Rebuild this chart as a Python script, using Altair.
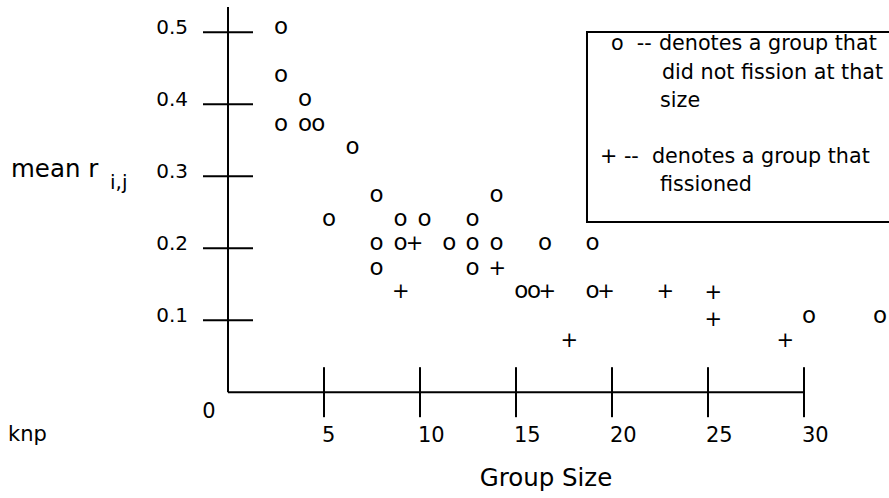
import altair as alt
import pandas as pd

# ---- data ----
nofission_size = [2.76, 2.76, 4.01, 2.76, 4.01, 4.70, 6.49, 7.74, 5.26, 8.98, 10.23,
                  7.74, 8.98, 7.74, 11.53, 12.74, 12.74, 13.99, 13.99, 12.74, 15.28,
                  15.94, 16.51, 18.99, 18.99, 30.26, 33.96]
nofission_r = [0.507, 0.440, 0.407, 0.373, 0.373, 0.373, 0.340, 0.274, 0.240, 0.240, 0.240,
               0.207, 0.207, 0.173, 0.207, 0.240, 0.207, 0.207, 0.274, 0.173, 0.140,
               0.140, 0.207, 0.207, 0.140, 0.106, 0.106]
fission_size = [9.71, 9.00, 14.03, 16.63, 19.69, 22.78, 17.78, 25.28, 25.28, 29.03]
fission_r = [0.207, 0.140, 0.173, 0.140, 0.140, 0.140, 0.073, 0.139, 0.101, 0.072]

x_ticks = [5, 10, 15, 20, 25, 30]
x_tick_labels = ["5", "10", "15", "20", "25", "30"]
y_ticks = [0.1, 0.2, 0.3, 0.4, 0.5]
y_tick_labels = ["0.1", "0.2", "0.3", "0.4", "0.5"]
legend_prefix = ["o\u00a0\u00a0--", "", "", "+ --", ""]
legend_text = ["denotes a group that", "did not fission at that", "size",
               "denotes a group that", "fissioned"]

FONT = "DejaVu Sans"
X_MAX = 34
Y_MAX = 0.535
W = 652.8
H = 385.2

xs = alt.Scale(domain=[0, X_MAX], nice=False, zero=False)
ys = alt.Scale(domain=[0, Y_MAX], nice=False, zero=False)

pts_o = pd.DataFrame({"size": nofission_size, "r": nofission_r, "sym": ["o"] * len(nofission_size)})
pts_p = pd.DataFrame({"size": fission_size, "r": fission_r, "sym": ["+"] * len(fission_size)})
xt = pd.DataFrame({"v": x_ticks, "lab": x_tick_labels})
yt = pd.DataFrame({"v": y_ticks, "lab": y_tick_labels})
one = pd.DataFrame({"d": [0]})

def X(f):
    return alt.X(f, type="quantitative", scale=xs, axis=None)

def Y(f):
    return alt.Y(f, type="quantitative", scale=ys, axis=None)

XD0 = alt.XDatum(0, scale=xs, axis=None)
YD0 = alt.YDatum(0, scale=ys, axis=None)

o_layer = alt.Chart(pts_o).mark_text(font=FONT, fontSize=23, align="center", baseline="middle",
                                     color="black").encode(x=X("size"), y=Y("r"), text="sym:N")
p_layer = alt.Chart(pts_p).mark_text(font=FONT, fontSize=21, align="center", baseline="middle",
                                     color="black", dy=1).encode(x=X("size"), y=Y("r"), text="sym:N")

y_axis = alt.Chart(one).mark_rule(color="black", strokeWidth=2).encode(
    x=XD0, y=YD0, y2=alt.Y2Datum(Y_MAX))
x_axis = alt.Chart(one).mark_rule(color="black", strokeWidth=2).encode(
    y=YD0, x=XD0, x2=alt.X2Datum(30))

y_tick_marks = alt.Chart(yt).mark_tick(orient="horizontal", size=50, thickness=2,
                                       color="black", opacity=1).encode(x=XD0, y=Y("v"))
x_tick_marks = alt.Chart(xt).mark_tick(orient="vertical", size=50, thickness=2,
                                       color="black", opacity=1).encode(y=YD0, x=X("v"))

y_labels = alt.Chart(yt).mark_text(font=FONT, fontSize=20, align="right", baseline="alphabetic",
                                   dx=-40, dy=2, color="black").encode(x=XD0, y=Y("v"), text="lab:N")
x_labels = alt.Chart(xt).mark_text(font=FONT, fontSize=21, align="left", baseline="alphabetic",
                                   dx=-2, dy=50, color="black").encode(x=X("v"), y=YD0, text="lab:N")
origin_label = alt.Chart(one).mark_text(font=FONT, fontSize=21, align="center", baseline="alphabetic",
                                        dx=-19, dy=26, color="black", text="0").encode(x=XD0, y=YD0)

# annotations (pixel positions relative to the plot origin at 228, 7)
knp = alt.Chart(one).mark_text(font=FONT, fontSize=21, align="left", baseline="alphabetic",
                               color="black", text="knp").encode(x=alt.value(-220), y=alt.value(434))
x_title = alt.Chart(one).mark_text(font=FONT, fontSize=24.5, align="center", baseline="alphabetic",
                                   color="black", text="Group Size").encode(x=alt.value(318), y=alt.value(479.5))
y_title = alt.Chart(one).mark_text(font=FONT, fontSize=24.5, align="left", baseline="alphabetic",
                                   color="black", text="mean r").encode(x=alt.value(-217), y=alt.value(169.7))
y_title_sub = alt.Chart(one).mark_text(font=FONT, fontSize=20, align="left", baseline="alphabetic",
                                       color="black", text="i,j").encode(x=alt.value(-118), y=alt.value(182))

legend_box = alt.Chart(one).mark_rect(filled=False, stroke="black", strokeWidth=2).encode(
    x=alt.value(359), x2=alt.value(720), y=alt.value(25), y2=alt.value(215))

prefix_x = [611, 0, 0, 600, 0]
text_x = [659, 662, 660, 652, 660]
legend_base = [50, 79, 107, 163, 191]
legend_layers = []
for pre, txt, px, tx, ly in zip(legend_prefix, legend_text, prefix_x, text_x, legend_base):
    if pre:
        legend_layers.append(
            alt.Chart(one).mark_text(font=FONT, fontSize=20.7, align="left", baseline="alphabetic",
                                     color="black", text=pre).encode(x=alt.value(px - 228), y=alt.value(ly - 7))
        )
    legend_layers.append(
        alt.Chart(one).mark_text(font=FONT, fontSize=20.7, align="left", baseline="alphabetic",
                                 color="black", text=txt).encode(x=alt.value(tx - 228), y=alt.value(ly - 7))
    )

chart = alt.layer(
    legend_box, y_axis, x_axis, y_tick_marks, x_tick_marks, y_labels, x_labels, origin_label,
    knp, x_title, y_title, y_title_sub, o_layer, p_layer, *legend_layers
).properties(
    width=W, height=H,
    padding={"left": 228, "top": 7, "right": 8, "bottom": 104},
    autosize=alt.AutoSizeParams(type="none"),
    background="white",
).configure_view(stroke=None)

chart.save("out.html", embed_options={"renderer": "svg", "actions": False})
